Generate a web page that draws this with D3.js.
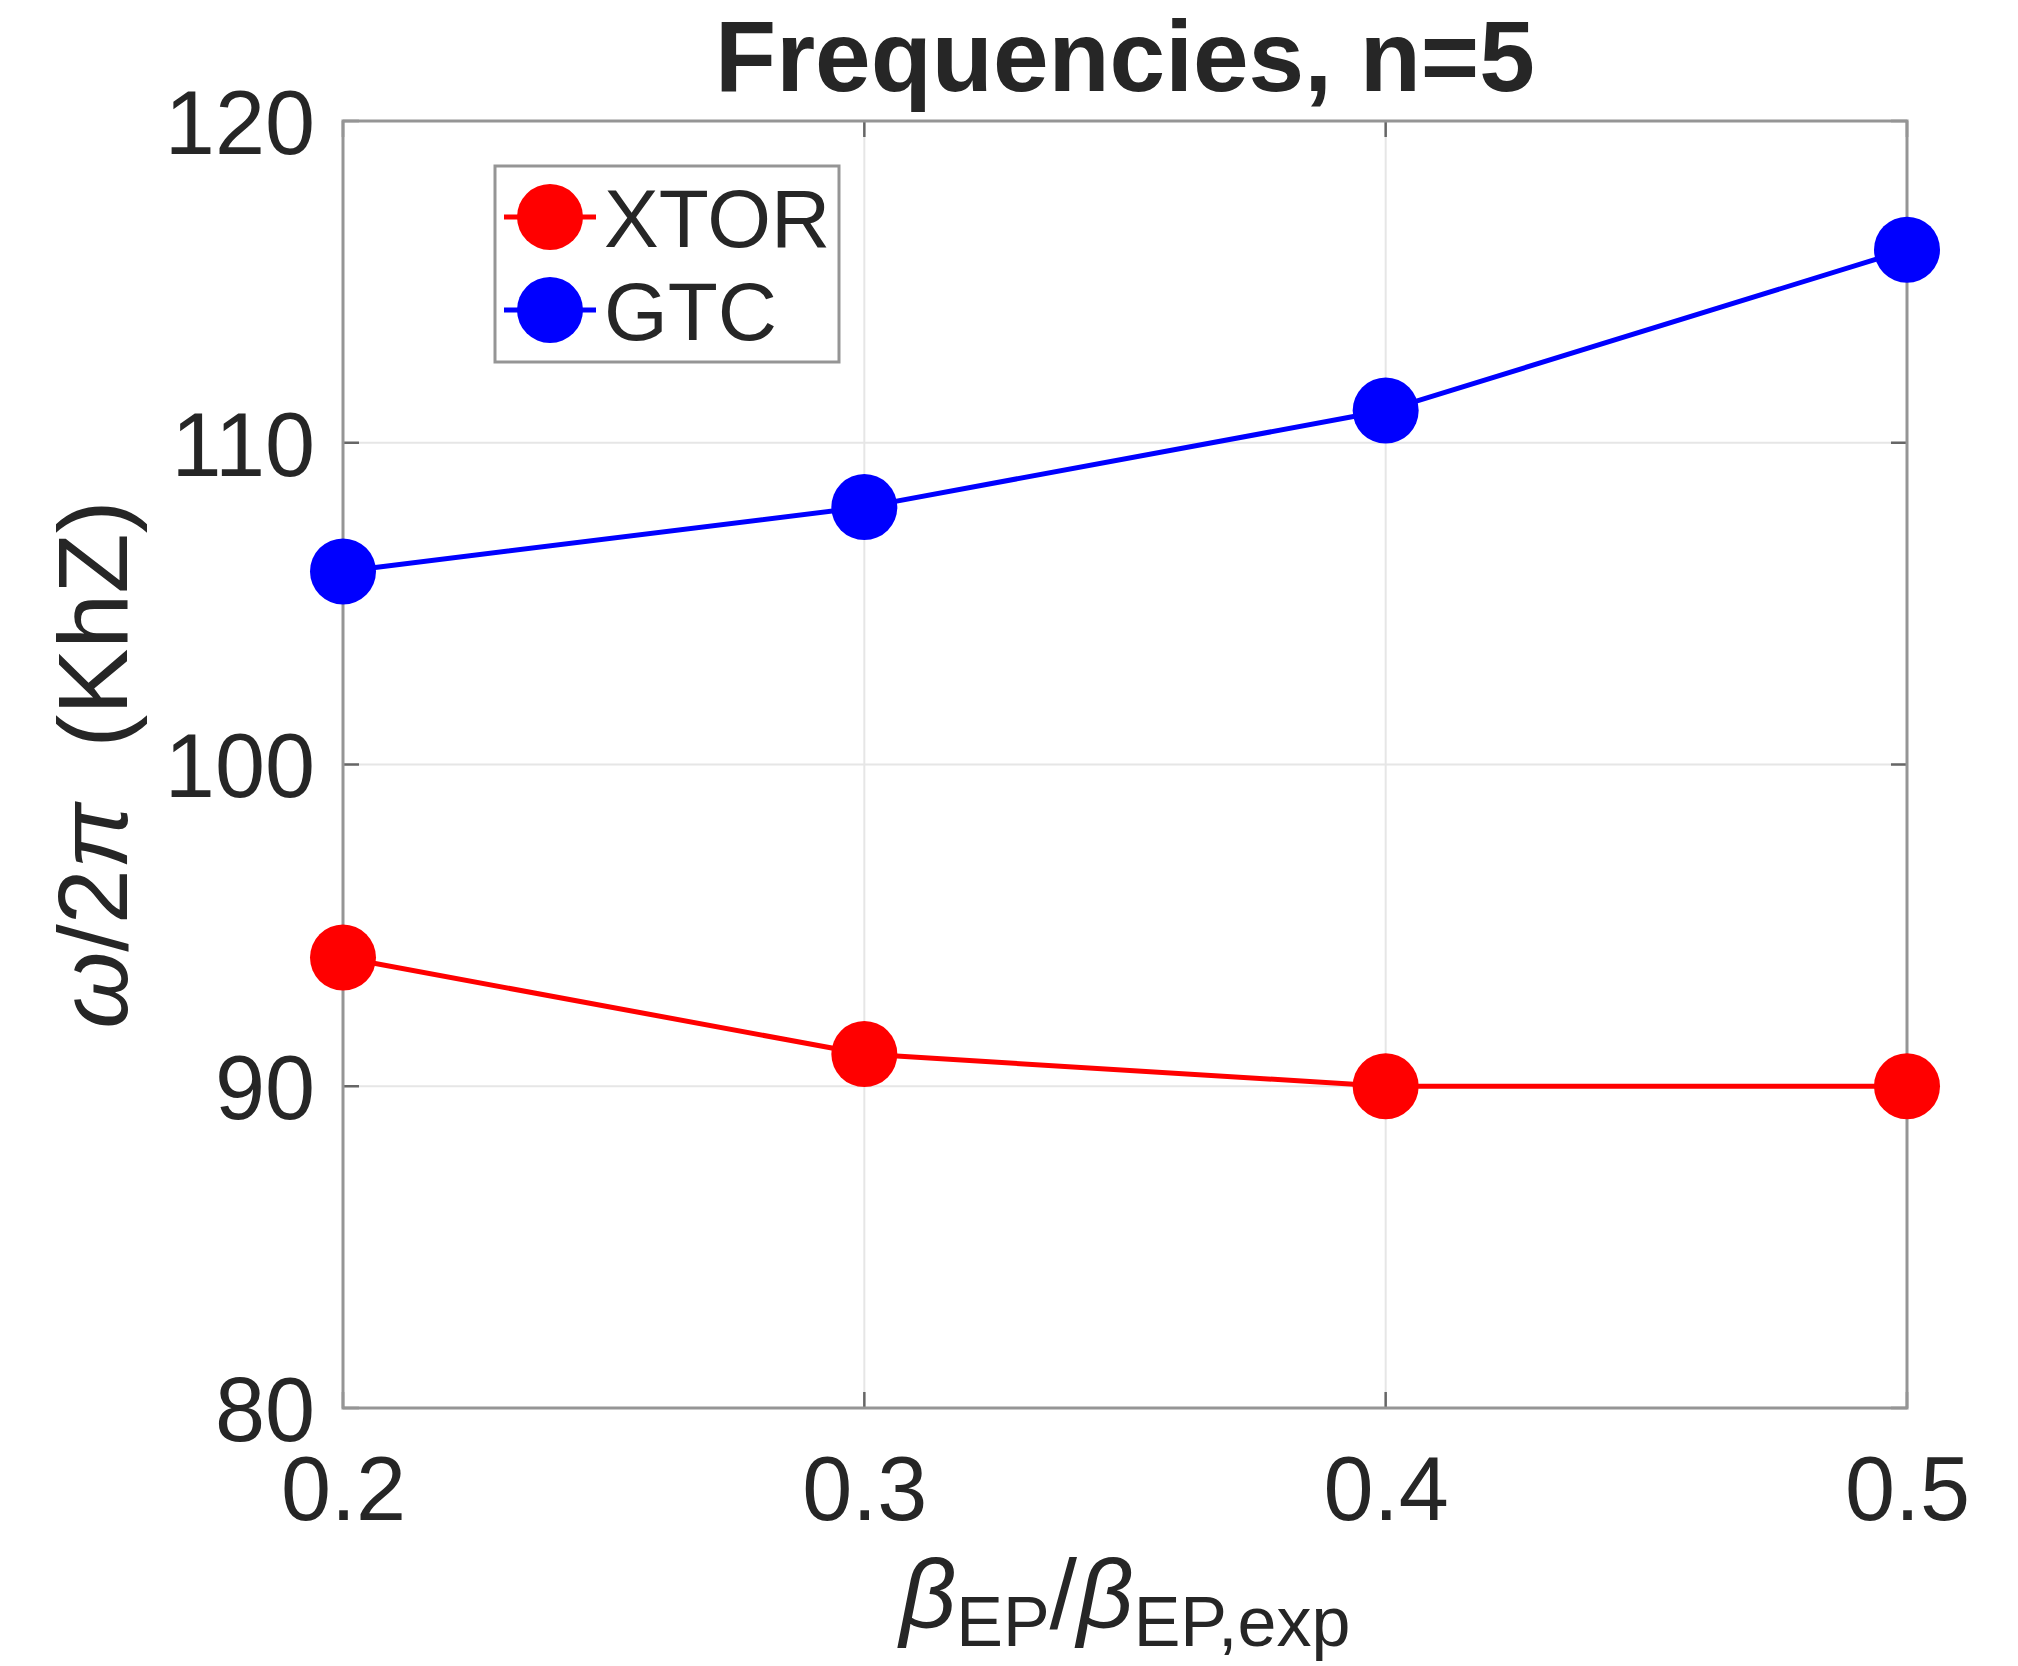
<!DOCTYPE html>
<html>
<head>
<meta charset="utf-8">
<script src="https://cdn.jsdelivr.net/npm/d3@7"></script>
<style>
  body { margin: 0; background: #fff; }
  text { font-family: "Liberation Sans", Arial, Helvetica, sans-serif; fill: #262626; }
</style>
</head>
<body>
<svg id="plot"></svg>
<script>
// data
const betaRatio = [0.2, 0.3, 0.4, 0.5];
const xtorFreq = [94, 91, 90, 90];
const gtcFreq = [106, 108, 111, 116];
const xTicks = [0.2, 0.3, 0.4, 0.5];
const yTicks = [80, 90, 100, 110, 120];
const seriesNames = ["XTOR", "GTC"];
const seriesColors = ["#ff0000", "#0000ff"];

let dimensions = {
    width: 2018,
    height: 1666,
    left: 343,
    right: 1907,
    top: 121,
    bottom: 1408,
};

const svg = d3.select("#plot")
    .attr("width", dimensions.width)
    .attr("height", dimensions.height);

const xScale = d3.scaleLinear()
    .domain([0.2, 0.5])
    .range([dimensions.left, dimensions.right]);

const yScale = d3.scaleLinear()
    .domain([80, 120])
    .range([dimensions.bottom, dimensions.top]);

// grid
svg.append("g")
    .selectAll("line")
    .data(xTicks)
    .join("line")
    .attr("x1", d => xScale(d)).attr("x2", d => xScale(d))
    .attr("y1", dimensions.top).attr("y2", dimensions.bottom)
    .attr("stroke", "#e6e6e6").attr("stroke-width", 2);

svg.append("g")
    .selectAll("line")
    .data(yTicks)
    .join("line")
    .attr("x1", dimensions.left).attr("x2", dimensions.right)
    .attr("y1", d => yScale(d)).attr("y2", d => yScale(d))
    .attr("stroke", "#e6e6e6").attr("stroke-width", 2);

// axes (labels only), ticks drawn inward below
const xAxis = d3.axisBottom(xScale).tickValues(xTicks).tickFormat(d3.format(".1f")).tickSize(0).tickPadding(48);
const yAxis = d3.axisLeft(yScale).tickValues(yTicks).tickSize(0).tickPadding(28);

const gx = svg.append("g")
    .attr("transform", `translate(0, ${dimensions.bottom})`)
    .call(xAxis);
const gy = svg.append("g")
    .attr("transform", `translate(${dimensions.left}, 0)`)
    .call(yAxis);

[gx, gy].forEach(g => {
    g.select(".domain").remove();
    g.selectAll("text")
        .attr("font-size", 90)
        .attr("font-family", "Liberation Sans, Arial, sans-serif")
        .attr("fill", "#262626");
});
gy.selectAll("text").attr("dy", "0.36em");

// inward tick marks on all four sides
const tickLen = 16;
const ticks = svg.append("g").attr("stroke", "#666").attr("stroke-width", 2.5);
xTicks.forEach(t => {
    ticks.append("line").attr("x1", xScale(t)).attr("x2", xScale(t))
        .attr("y1", dimensions.bottom).attr("y2", dimensions.bottom - tickLen);
    ticks.append("line").attr("x1", xScale(t)).attr("x2", xScale(t))
        .attr("y1", dimensions.top).attr("y2", dimensions.top + tickLen);
});
yTicks.forEach(t => {
    ticks.append("line").attr("y1", yScale(t)).attr("y2", yScale(t))
        .attr("x1", dimensions.left).attr("x2", dimensions.left + tickLen);
    ticks.append("line").attr("y1", yScale(t)).attr("y2", yScale(t))
        .attr("x1", dimensions.right).attr("x2", dimensions.right - tickLen);
});

// box
svg.append("rect")
    .attr("x", dimensions.left).attr("y", dimensions.top)
    .attr("width", dimensions.right - dimensions.left)
    .attr("height", dimensions.bottom - dimensions.top)
    .attr("fill", "none").attr("stroke", "#959595").attr("stroke-width", 3);

// series
const series = [xtorFreq, gtcFreq];
const line = d3.line()
    .x((d, i) => xScale(betaRatio[i]))
    .y(d => yScale(d));

series.forEach((vals, k) => {
    svg.append("path")
        .datum(vals)
        .attr("d", line)
        .attr("fill", "none")
        .attr("stroke", seriesColors[k])
        .attr("stroke-width", 5);
    svg.append("g")
        .selectAll("circle")
        .data(vals)
        .join("circle")
        .attr("cx", (d, i) => xScale(betaRatio[i]))
        .attr("cy", d => yScale(d))
        .attr("r", 33)
        .attr("fill", seriesColors[k]);
});

// legend
const legend = svg.append("g");
legend.append("rect")
    .attr("x", 495).attr("y", 166)
    .attr("width", 344).attr("height", 196)
    .attr("fill", "#fff").attr("stroke", "#959595").attr("stroke-width", 3);
seriesNames.forEach((name, k) => {
    const cy = 217 + k * 93;
    legend.append("line")
        .attr("x1", 504).attr("x2", 596)
        .attr("y1", cy).attr("y2", cy)
        .attr("stroke", seriesColors[k]).attr("stroke-width", 5);
    legend.append("circle")
        .attr("cx", 550).attr("cy", cy).attr("r", 33)
        .attr("fill", seriesColors[k]);
    legend.append("text")
        .attr("x", 604).attr("y", cy + 30)
        .attr("font-size", 82)
        .text(name);
});

// title
svg.append("text")
    .attr("x", (dimensions.left + dimensions.right) / 2)
    .attr("y", 91)
    .attr("text-anchor", "middle")
    .attr("font-size", 100)
    .attr("font-weight", "bold")
    .text("Frequencies, n=5");

// x label
const xl = svg.append("text")
    .attr("x", (dimensions.left + dimensions.right) / 2)
    .attr("y", 1628)
    .attr("text-anchor", "middle")
    .attr("font-size", 99);
xl.append("tspan").attr("font-style", "italic").text("β");
xl.append("tspan").attr("font-size", 70).attr("dy", 18).text("EP");
xl.append("tspan").attr("dy", -18).text("/");
xl.append("tspan").attr("font-style", "italic").text("β");
xl.append("tspan").attr("font-size", 70).attr("dy", 18).text("EP,exp");

// y label
const yl = svg.append("text")
    .attr("transform", `translate(127, ${(dimensions.top + dimensions.bottom) / 2}) rotate(-90)`)
    .attr("text-anchor", "middle")
    .attr("font-size", 99);
yl.append("tspan").attr("font-style", "italic").text("ω");
yl.append("tspan").text("/2");
yl.append("tspan").attr("font-style", "italic").text("π");
yl.append("tspan").text("  (KhZ)").attr("xml:space", "preserve");
</script>
</body>
</html>
